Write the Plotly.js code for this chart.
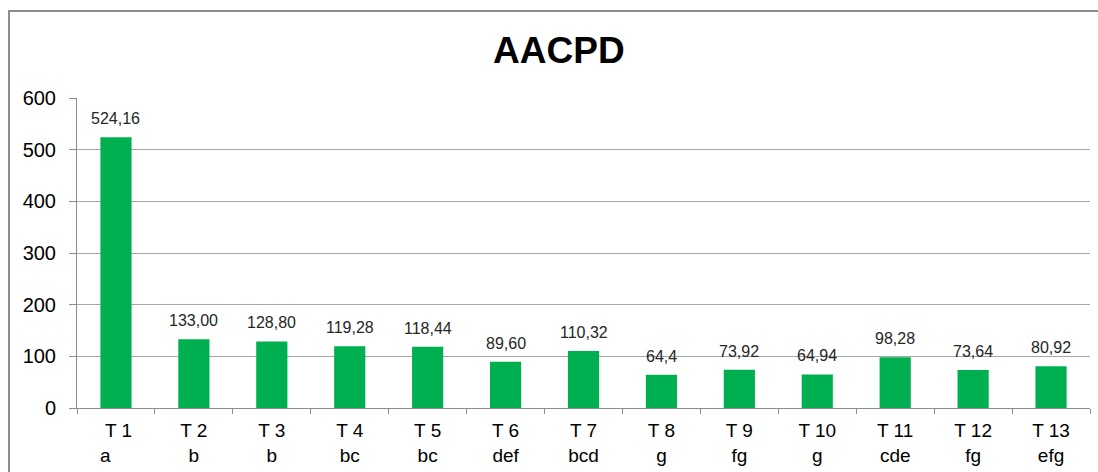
<!DOCTYPE html>
<html>
<head>
<meta charset="utf-8">
<script src="https://cdn.plot.ly/plotly-3.0.1.min.js"></script>
<style>
  html, body { margin: 0; padding: 0; background: #fff; overflow: hidden; }
  #chart { width: 1098px; height: 472px; position: absolute; left: 0; top: 0; }
  #frame { position: absolute; left: 8px; top: 10px; width: 1200px; height: 600px;
           border: 2.5px solid #8c8c8c; pointer-events: none; box-sizing: border-box; }
</style>
</head>
<body>
<div id="chart"></div>
<div id="frame"></div>
<script>
const categories = ["T 1", "T 2", "T 3", "T 4", "T 5", "T 6", "T 7", "T 8", "T 9", "T 10", "T 11", "T 12", "T 13"];
const groupLetters = ["a", "b", "b", "bc", "bc", "def", "bcd", "g", "fg", "g", "cde", "fg", "efg"];
const values = [524.16, 133.00, 128.80, 119.28, 118.44, 89.60, 110.32, 64.4, 73.92, 64.94, 98.28, 73.64, 80.92];
const valueLabels = ["524,16", "133,00", "128,80", "119,28", "118,44", "89,60", "110,32", "64,4", "73,92", "64,94", "98,28", "73,64", "80,92"];
const yTicks = [0, 100, 200, 300, 400, 500, 600];

const tickText = categories.map((c, i) =>
  i === 0 ? "\u00a0" + c + "<br>" + groupLetters[i] + "\u00a0\u00a0\u00a0\u00a0"
          : c + "<br>" + groupLetters[i]);

const trace = {
  type: "bar",
  x: categories,
  y: values,
  marker: { color: "#00b050" },
  hoverinfo: "x+y"
};

const labelAnnotations = categories.map((c, i) => ({
  x: c,
  y: values[i],
  xref: "x",
  yref: "y",
  text: valueLabels[i],
  showarrow: false,
  xanchor: "center",
  yanchor: "bottom",
  yshift: 8,
  font: { family: "Liberation Sans, Arial, sans-serif", size: 16, color: "#262626" }
}));

const layout = {
  width: 1098,
  height: 472,
  margin: { l: 77, r: 8, t: 98, b: 64 },
  paper_bgcolor: "#ffffff",
  plot_bgcolor: "#ffffff",
  bargap: 0.6,
  showlegend: false,
  font: { family: "Liberation Sans, Arial, sans-serif", color: "#000" },
  title: {
    text: "<b>AACPD</b>",
    font: { family: "Liberation Sans, Arial, sans-serif", size: 37, color: "#000" },
    x: 0.509, xref: "container", xanchor: "center",
    y: 0.895, yref: "container", yanchor: "middle"
  },
  annotations: labelAnnotations,
  xaxis: {
    type: "category",
    tickmode: "array",
    tickvals: categories,
    ticktext: tickText,
    tickson: "boundaries",
    ticks: "outside",
    ticklen: 5,
    tickcolor: "#8c8c8c",
    ticklabelstandoff: 5,
    showline: true,
    linecolor: "#8c8c8c",
    linewidth: 1,
    showgrid: false,
    tickfont: { size: 19, color: "#000" }
  },
  yaxis: {
    range: [0, 600],
    tickmode: "array",
    tickvals: yTicks,
    ticktext: yTicks.map(String),
    ticks: "outside",
    ticklen: 7,
    tickcolor: "#8c8c8c",
    ticklabelstandoff: 9,
    showline: true,
    linecolor: "#8c8c8c",
    linewidth: 1,
    showgrid: true,
    gridcolor: "#a6a6a6",
    gridwidth: 1,
    zeroline: false,
    tickfont: { size: 20, color: "#000" }
  }
};

Plotly.newPlot("chart", [trace], layout, { displayModeBar: false, staticPlot: true });
</script>
</body>
</html>
